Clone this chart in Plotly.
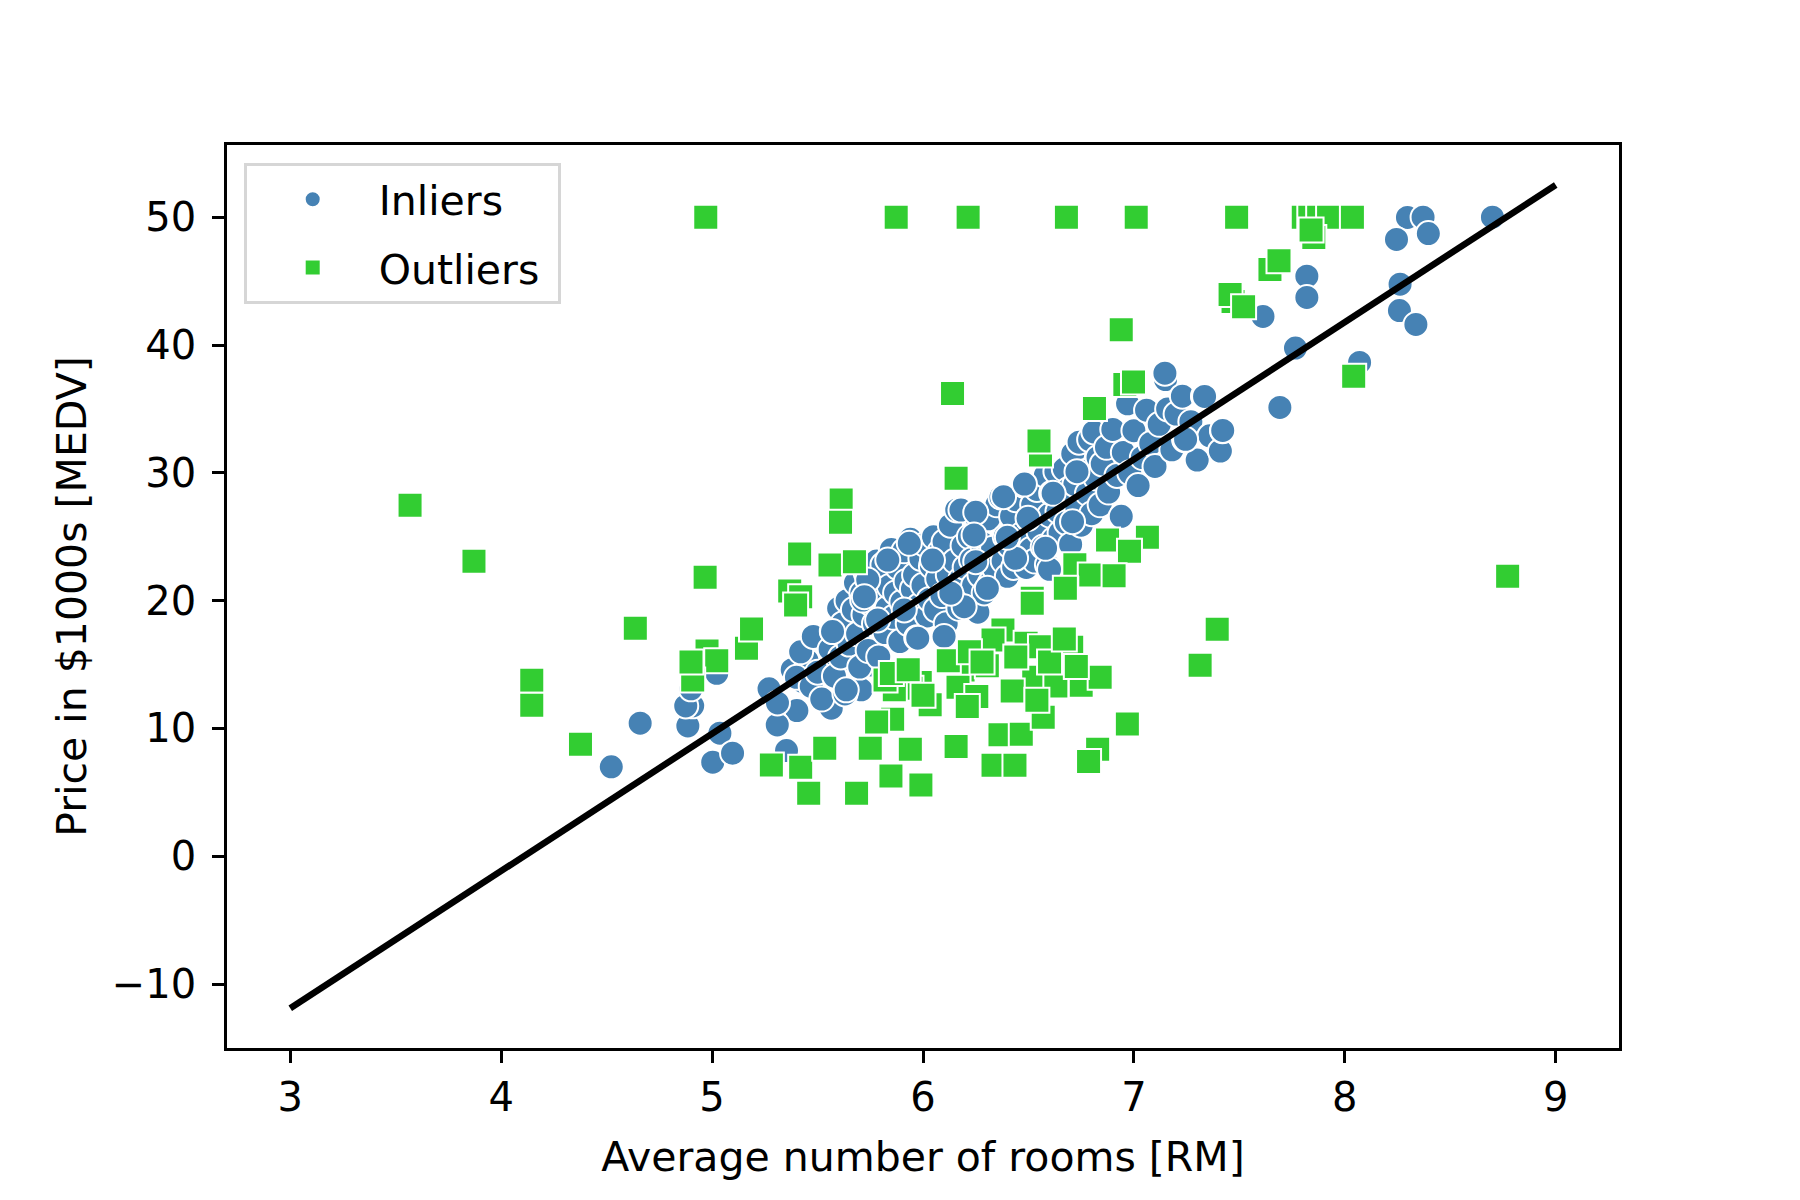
import plotly.graph_objects as go

# RANSAC fit line (from picture)
line_x = [3.0, 9.0]
slope = 10.735
intercept = -44.089

# Outliers (RM, MEDV)
out_x = [4.97, 5.873, 6.214, 6.68, 7.011, 7.487, 7.803, 7.834, 7.876, 7.923, 8.036,
         7.853, 7.84, 7.645, 7.688, 7.47, 7.456, 7.52, 8.042,
         6.94, 6.957, 6.998, 6.813, 6.14, 6.157, 6.557, 6.55,
         6.875, 7.064, 6.979, 6.72, 6.793, 6.906, 6.677, 6.518, 6.675,
         7.395, 7.314, 6.969, 6.828, 6.785, 8.772,
         3.568, 3.871, 4.145, 4.145, 4.376, 4.636, 4.967, 4.976, 5.022, 4.908, 4.9,
         5.163, 5.187, 5.368, 5.42, 5.396, 5.415, 5.559, 5.675, 5.612, 5.609,
         5.281, 5.42, 5.534, 5.75, 5.458, 5.685, 5.856, 5.848, 5.94, 5.99,
         6.157, 6.332, 6.436, 6.365, 6.466, 6.57,
         6.379, 6.489, 6.705, 6.19, 6.305, 5.987, 6.525, 6.728, 6.423, 6.034,
         6.166, 6.75, 6.63, 6.255, 6.21, 6.332, 6.557, 5.943, 5.864, 5.82, 5.78,
         6.84, 6.727, 6.518, 5.85, 5.93, 6.12, 6.22, 6.28, 6.0, 6.44, 6.6, 6.67, 6.54]
out_y = [50.0, 50.0, 50.0, 50.0, 50.0, 50.0, 50.0, 50.0, 50.0, 50.0, 50.0,
         48.41, 49.0, 45.9, 46.6, 43.4, 43.96, 43.0, 37.55,
         41.2, 36.92, 37.1, 35.04, 36.2, 29.57, 31.39, 32.5,
         24.75, 24.96, 23.86, 22.8, 22.0, 21.95, 20.9, 20.19, 20.97,
         17.76, 14.95, 10.34, 8.38, 7.41, 21.9,
         27.46, 23.08, 13.78, 11.82, 8.77, 17.84, 21.83, 16.07, 15.29, 13.8, 15.2,
         16.28, 17.79, 20.76, 20.3, 19.66, 23.65, 22.79, 23.05, 27.87, 26.13,
         7.15, 6.97, 8.46, 8.46, 4.94, 4.94, 10.73, 6.29, 8.38, 5.57,
         8.58, 7.13, 7.13, 9.5, 9.55, 10.88,
         17.71, 16.67, 16.36, 14.58, 14.9, 13.59, 14.0, 14.69, 12.94, 11.85,
         13.23, 13.39, 13.33, 12.5, 11.71, 16.93, 16.4, 13.15, 13.02, 13.8, 10.5,
         14.0, 14.84, 19.8, 14.3, 14.6, 15.3, 16.0, 15.2, 12.6, 15.6, 15.2, 17.0, 12.2]

# Inliers (RM, MEDV)
in_x = [4.522, 4.659, 4.885, 4.908, 5.003, 5.037, 5.097, 4.875, 4.9, 5.03, 5.022,
        5.277, 5.305, 5.402, 5.309, 5.353, 5.455, 5.431, 5.518, 5.565, 5.631, 5.707,
        5.601, 5.754, 5.4, 5.27, 5.31, 5.38, 5.45,
        5.40, 5.42, 5.47, 5.48, 5.50, 5.52,
        5.56, 5.57, 5.58, 5.60, 5.61, 5.62, 5.63, 5.64, 5.65,
        5.67, 5.68, 5.69, 5.70, 5.71, 5.72, 5.73, 5.74, 5.75,
        5.76, 5.77, 5.78, 5.79, 5.80, 5.81, 5.82, 5.83, 5.84, 5.85,
        5.86, 5.87, 5.88, 5.89, 5.90, 5.91, 5.92, 5.93, 5.94, 5.95,
        5.96, 5.97, 5.98, 5.99, 6.00, 6.01, 6.02, 6.03, 6.04, 6.05,
        6.06, 6.07, 6.08, 6.09, 6.10, 6.11, 6.12, 6.13, 6.14, 6.15,
        6.16, 6.17, 6.18, 6.19, 6.20, 6.21, 6.22, 6.23, 6.24, 6.25,
        6.26, 6.27, 6.28, 6.29, 6.30, 6.31, 6.32, 6.33, 6.34, 6.35,
        6.37, 6.38, 6.39, 6.40, 6.41, 6.42, 6.43, 6.44, 6.45,
        6.47, 6.48, 6.49, 6.50, 6.51, 6.52, 6.53, 6.54, 6.55,
        6.57, 6.58, 6.59, 6.60, 6.61, 6.62, 6.63, 6.64, 6.65,
        6.67, 6.68, 6.69, 6.70, 6.71, 6.72, 6.73, 6.74, 6.75,
        6.77, 6.78, 6.79, 6.80, 6.81, 6.82, 6.83, 6.84, 6.85,
        6.87, 6.88, 6.90, 6.92, 6.94, 6.95, 6.97, 6.98, 7.00,
        7.02, 7.04, 7.06, 7.08, 7.10, 7.12, 7.15, 7.16, 7.18, 7.20,
        7.23, 7.24, 7.27, 7.30, 7.33, 7.36, 7.41, 7.42, 7.147, 7.331, 7.245,
        5.738, 5.714, 5.571, 5.636, 5.833, 6.045, 6.25, 6.439, 6.6, 6.709, 6.498,
        6.382, 6.481, 6.617, 6.73, 6.18, 6.25, 5.935, 6.242, 6.4, 6.581,
        5.722, 5.785, 5.911, 6.195, 5.975, 6.1, 6.132, 6.305,
        7.335, 7.421, 7.692, 7.612, 7.766, 7.82, 7.82, 8.07,
        8.297, 8.371, 8.245, 8.396, 8.70, 8.262, 8.259, 8.337]
in_y = [7.0, 10.41, 10.2, 11.77, 7.36, 9.63, 8.07, 11.76, 13.1, 14.4, 14.32,
        13.07, 12.03, 11.4, 10.28, 8.27, 15.23, 13.67, 12.24, 11.59, 12.81, 13.02,
        15.23, 14.97, 14.5, 13.1, 12.0, 14.6, 15.3,
        14.0, 16.0, 13.3, 17.2, 14.4, 12.3,
        16.2, 17.6, 14.1, 19.4, 15.6, 18.2, 12.7, 20.0, 16.6,
        19.3, 21.4, 17.4, 14.8, 20.6, 18.9, 22.2, 16.1, 19.8,
        21.7, 18.2, 23.1, 15.6, 20.5, 22.8, 17.5, 19.4, 21.1, 24.0,
        18.7, 20.6, 22.6, 16.8, 19.9, 23.9, 21.5, 18.2, 24.8, 20.9,
        22.0, 17.1, 19.6, 23.3, 21.2, 24.4, 18.8, 20.1, 22.7, 25.0,
        19.3, 21.7, 23.8, 20.4, 24.6, 18.2, 22.0, 25.9, 20.8, 23.1,
        27.1, 19.4, 21.7, 24.3, 22.6, 20.0, 25.0, 23.2, 21.2, 26.6,
        19.1, 22.0, 24.5, 20.6, 23.4, 26.4, 21.4, 24.1, 22.5, 27.5,
        28.1, 23.1, 25.0, 21.9, 24.3, 26.6, 22.6, 27.9, 23.7,
        25.2, 29.0, 22.6, 26.4, 24.0, 27.5, 23.1, 28.7, 25.4,
        24.2, 29.8, 22.8, 26.7, 28.4, 24.8, 30.1, 27.0, 25.3,
        30.3, 26.1, 28.7, 24.4, 31.5, 29.1, 27.2, 32.4, 25.9,
        30.1, 28.4, 32.6, 26.8, 33.2, 29.6, 31.2, 27.5, 30.7,
        32.0, 28.5, 33.4, 29.8, 26.6, 31.6, 35.4, 30.0, 33.3,
        29.0, 31.2, 34.9, 32.3, 30.5, 33.8, 37.3, 35.0, 31.8, 34.6,
        36.0, 32.6, 34.0, 31.0, 36.0, 32.9, 31.7, 33.3, 37.8, 35.95, 32.62,
        21.62, 20.05, 17.58, 13.02, 23.18, 23.18, 23.05, 23.31, 22.45, 26.18, 26.44,
        28.13, 29.12, 28.4, 30.09, 27.09, 26.91, 24.49, 25.14, 24.96, 24.1,
        20.31, 18.49, 19.27, 19.53, 17.06, 17.2, 20.58, 20.97,
        35.98, 33.32, 35.12, 42.24, 39.76, 45.39, 43.72, 38.64,
        49.98, 50.0, 48.26, 48.72, 50.0, 44.76, 42.7, 41.61]

line_y = [slope * v + intercept for v in line_x]

FONT = "DejaVu Sans"
NBSP = "\u00a0"

fig = go.Figure()
fig.add_trace(go.Scatter(
    x=in_x, y=in_y, mode="markers", name="Inliers" + NBSP,
    legendgroup="in",
    marker=dict(symbol="circle", size=25, color="steelblue",
                line=dict(color="white", width=2)),
))
fig.add_trace(go.Scatter(
    x=out_x, y=out_y, mode="markers", name="Outliers" + NBSP,
    legendgroup="out",
    marker=dict(symbol="square", size=25, color="limegreen",
                line=dict(color="white", width=2)),
))
fig.add_trace(go.Scatter(
    x=line_x, y=line_y, mode="lines", showlegend=False,
    line=dict(color="black", width=6.5),
))

axis_common = dict(
    showgrid=False, zeroline=False, showline=True, mirror=True,
    linecolor="black", linewidth=2.5, ticks="outside", ticklen=12,
    tickwidth=2.5, tickcolor="black",
    tickfont=dict(family=FONT, size=40, color="black"),
)

fig.update_layout(
    width=1800, height=1200,
    paper_bgcolor="white", plot_bgcolor="white",
    margin=dict(l=219, r=189, t=137, b=160),
    font=dict(family=FONT, color="black"),
    xaxis=dict(range=[2.7, 9.3], tickmode="array",
               tickvals=[3, 4, 5, 6, 7, 8, 9],
               title=dict(text="Average number of rooms [RM]",
                          font=dict(family=FONT, size=41), standoff=24),
               **axis_common),
    yaxis=dict(range=[-15.0, 55.65], tickmode="array",
               tickvals=[-10, 0, 10, 20, 30, 40, 50],
               ticklabelstandoff=8,
               title=dict(text="Price in $1000s [MEDV]",
                          font=dict(family=FONT, size=41), standoff=13),
               **axis_common),
    legend=dict(x=0.012, y=0.98, xanchor="left", yanchor="top",
                bgcolor="rgba(255,255,255,0.8)", bordercolor="#d6d6d6",
                borderwidth=3, font=dict(family=FONT, size=41),
                itemwidth=122, traceorder="grouped", tracegroupgap=12),
    showlegend=True,
)

fig.write_html("out.html")
